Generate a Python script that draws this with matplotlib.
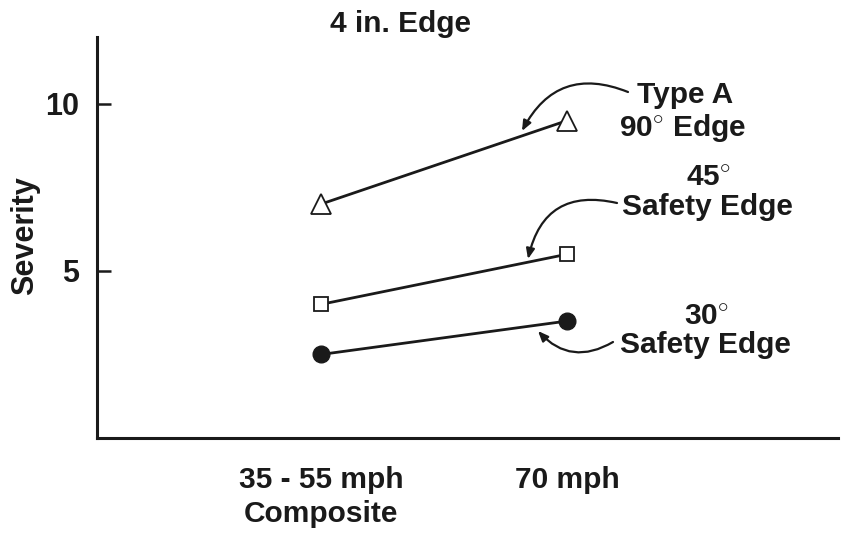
import matplotlib
matplotlib.use("Agg")
import matplotlib.pyplot as plt

plt.rcParams['font.family'] = ['Liberation Sans', 'DejaVu Sans']
plt.rcParams['font.weight'] = 'bold'
plt.rcParams['mathtext.fontset'] = 'custom'
plt.rcParams['mathtext.rm'] = 'Liberation Sans'
plt.rcParams['mathtext.bf'] = 'Liberation Sans:bold'

categories = ["35 - 55 mph\nComposite", "70 mph"]
x_pos = [1, 2]
type_a_90 = [7.0, 9.5]
safety_45 = [4.0, 5.5]
safety_30 = [2.5, 3.5]
y_ticks = [5, 10]

W, H = 841, 533
fig = plt.figure(figsize=(W / 100, H / 100), dpi=100)
ax = fig.add_axes([97 / W, 1 - 438 / H, (838 - 97) / W, (438 - 37) / H])

ink = '#1a1a1a'
ax.plot(x_pos, type_a_90, color=ink, lw=2.0, marker='^', ms=14,
        mfc='white', mec=ink, mew=1.3, zorder=3)
ax.plot(x_pos, safety_45, color=ink, lw=2.0, marker='s', ms=10,
        mfc='white', mec=ink, mew=1.3, zorder=3)
ax.plot(x_pos, safety_30, color=ink, lw=2.0, marker='o', ms=12,
        mfc=ink, mec=ink, zorder=3)

ax.set_xlim(0.09, 3.1)
ax.set_ylim(0, 12)
ax.spines['top'].set_visible(False)
ax.spines['right'].set_visible(False)
for s in ('left', 'bottom'):
    ax.spines[s].set_linewidth(2.2)
    ax.spines[s].set_color(ink)

ax.set_yticks(y_ticks)
ax.set_yticklabels([str(v) for v in y_ticks], fontsize=22, fontweight='bold', color=ink)
ax.tick_params(axis='y', direction='in', length=10, width=1.8, pad=13, colors=ink)
ax.set_xticks(x_pos)
ax.set_xticklabels(categories, fontsize=21.5, fontweight='bold', color=ink, linespacing=1.3)
ax.tick_params(axis='x', length=0, pad=20)

fig.text(25 / W, 1 - 236 / H, "Severity", rotation=90, fontsize=22, fontweight='bold',
         color=ink, ha='center', va='center')
fig.text(401 / W, 1 - 24 / H, "4 in. Edge", fontsize=21.5, fontweight='bold',
         color=ink, ha='center', va='center')

def pix(px, py):
    inv = ax.transData.inverted()
    return inv.transform((px, H - py))

fig.canvas.draw()

arrow_kw = dict(arrowstyle='-|>,head_length=0.6,head_width=0.25', color=ink, lw=1.6,
                shrinkA=0, shrinkB=0)

ax.annotate("", xy=pix(522, 131), xytext=pix(628, 92),
            arrowprops=dict(connectionstyle="arc3,rad=0.45", **arrow_kw))
ax.annotate("", xy=pix(528, 259), xytext=pix(617, 203),
            arrowprops=dict(connectionstyle="arc3,rad=0.5", **arrow_kw))
ax.annotate("", xy=pix(538, 331), xytext=pix(613, 342),
            arrowprops=dict(connectionstyle="arc3,rad=-0.4", **arrow_kw))

fs = 21.5
def label(px, py, s):
    x, y = pix(px, py)
    ax.text(x, y, s, fontsize=fs, fontweight='bold', color=ink, ha='center', va='center')

deg = r"$^{\circ}$"
label(685, 95, "Type A")
label(683, 128, "90" + deg + " Edge")
label(708, 178, "45" + deg)
label(707, 207, "Safety Edge")
label(706, 317, "30" + deg)
label(705, 345, "Safety Edge")

fig.savefig("out.png", dpi=100)
